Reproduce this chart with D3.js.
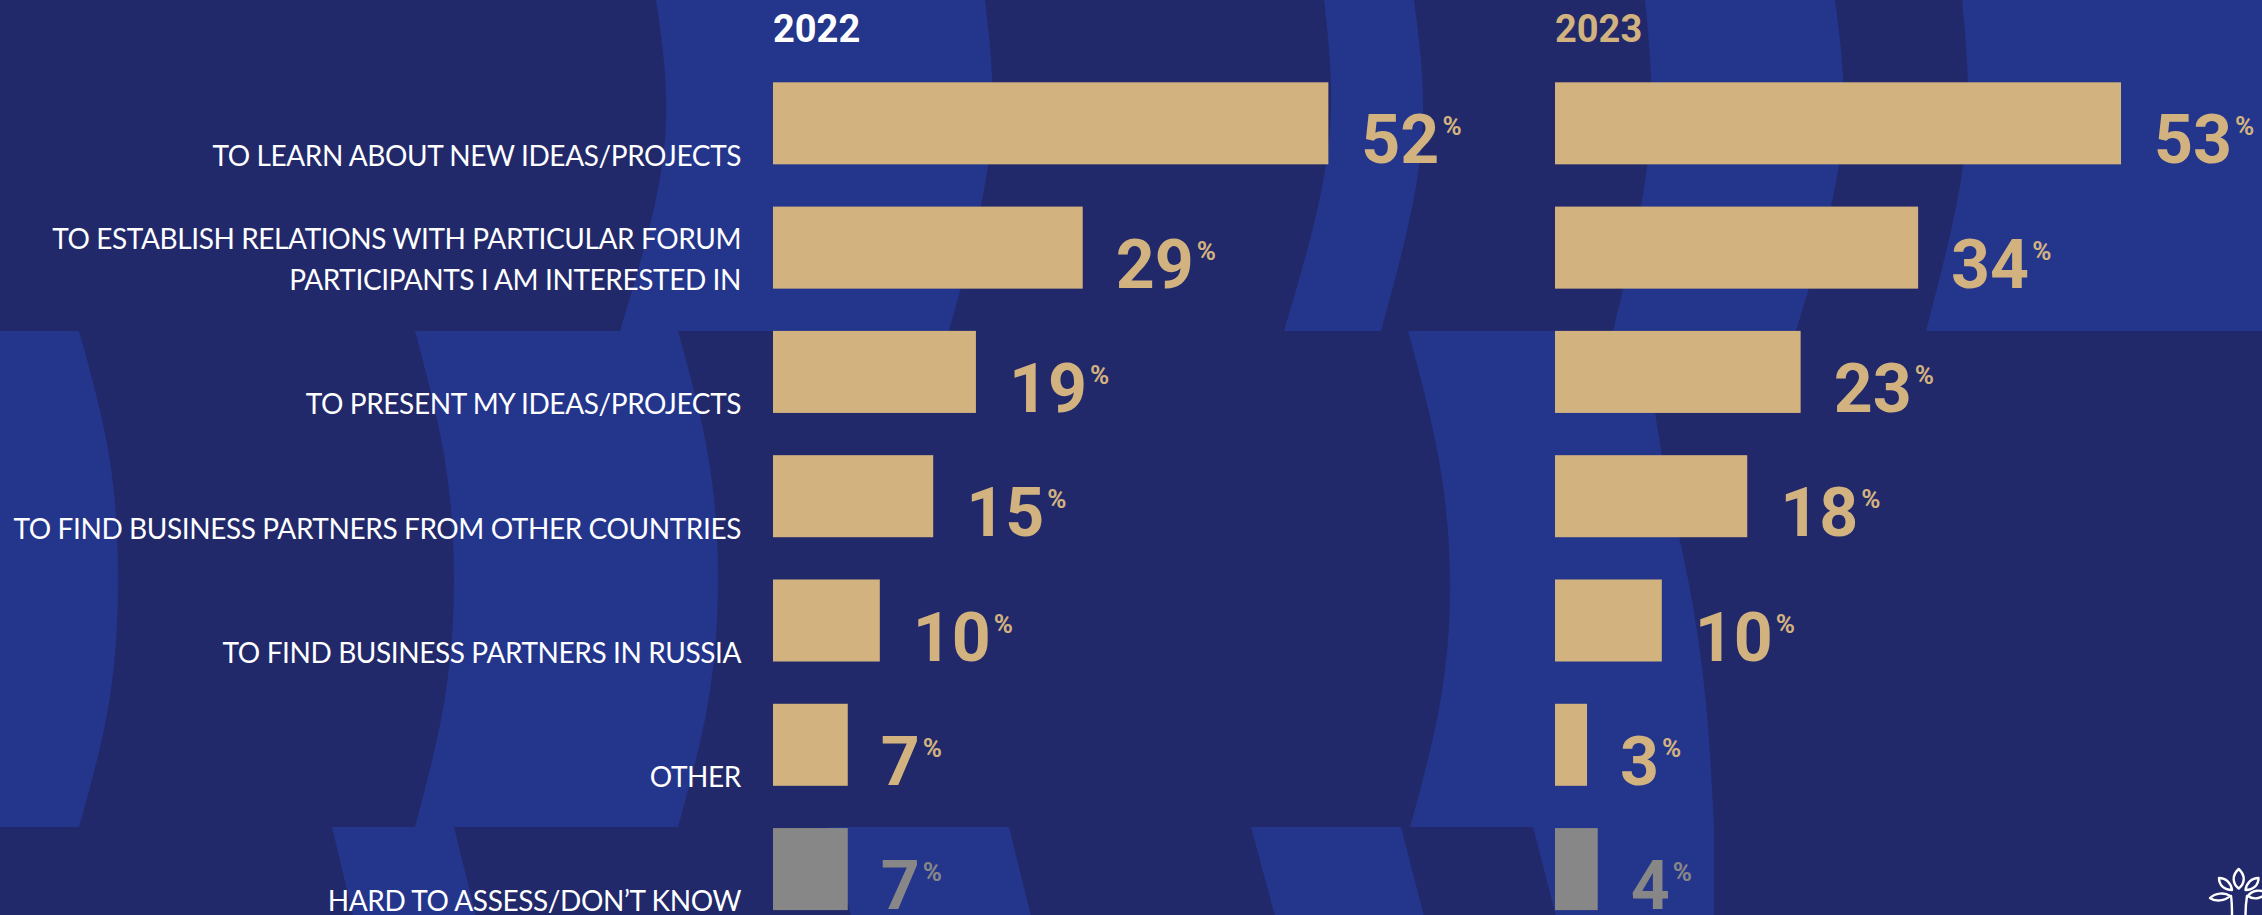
<!DOCTYPE html>
<html>
<head>
<meta charset="utf-8">
<script src="https://cdn.jsdelivr.net/npm/d3@7"></script>
<style>
  html, body { margin: 0; padding: 0; background: #21296A; overflow: hidden; }
  svg { display: block; }
</style>
</head>
<body>
<svg id="chart" width="2262" height="915"></svg>
<script>
// ---- data ----
const categories = [
  "TO LEARN ABOUT NEW IDEAS/PROJECTS",
  "TO ESTABLISH RELATIONS WITH PARTICULAR FORUM\nPARTICIPANTS I AM INTERESTED IN",
  "TO PRESENT MY IDEAS/PROJECTS",
  "TO FIND BUSINESS PARTNERS FROM OTHER COUNTRIES",
  "TO FIND BUSINESS PARTNERS IN RUSSIA",
  "OTHER",
  "HARD TO ASSESS/DON\u2019T KNOW"
];
const years = ["2022", "2023"];
const values2022 = [52, 29, 19, 15, 10, 7, 7];
const values2023 = [53, 34, 23, 18, 10, 3, 4];
const greyCategory = "HARD TO ASSESS/DON\u2019T KNOW";

// ---- style ----
const W = 2262, H = 915;
const DARK = "#21296A", LIGHT = "#24358C", TAN = "#D2B27F", GREY = "#878787";

const svg = d3.select("#chart");

// ---- decorative background (arc stripes) ----
const bands = [
  { y: [0, 150, 331], shapes: [
      [[656, 664, 620], [985, 990, 949]],
      [[1324, 1328, 1284], [1414, 1421, 1381]],
      [[1645, 1649, 1613], [1835, 1841, 1796]],
      [[1962, 1965, 1926], [2320, 2320, 2320]]
  ]},
  { y: [331, 455, 579, 703, 827], shapes: [
      [[-40, -40, -40, -40, -40], [79, 109, 118, 109, 79]],
      [[415, 444, 454, 444, 415], [678, 708, 718, 708, 678]],
      [[1408, 1438, 1450, 1440, 1410], [1645, 1662, 1688, 1706, 1714]]
  ]},
  { y: [827, 920], shapes: [
      [[332, 354], [454, 477]],
      [[829, 852], [1009, 1032]],
      [[1251, 1276], [1401, 1425]],
      [[1533, 1557], [1714, 1714]]
  ]}
];
const bg = svg.append("g");
bg.append("rect").attr("width", W).attr("height", H).attr("fill", DARK);
const edge = d3.line().curve(d3.curveNatural);
bands.forEach(b => {
  b.shapes.forEach(([left, right]) => {
    const lp = left.map((x, i) => [x, b.y[i]]);
    const rp = right.map((x, i) => [x, b.y[i]]).reverse();
    const d = edge(lp) + "L" + edge(rp).slice(1) + "Z";
    bg.append("path").attr("d", d).attr("fill", LIGHT);
  });
});

// ---- scales ----
const y = d3.scaleBand().domain(categories).range([82.3, 910.1]).paddingInner(0.34).paddingOuter(0);
const x2022 = d3.scaleLinear().domain([0, 100]).range([773, 773 + 1068]);
const x2023 = d3.scaleLinear().domain([0, 100]).range([1555, 1555 + 1068]);

// ---- category labels ----
const labelG = svg.append("g")
  .attr("font-family", "Lato, 'Open Sans', sans-serif")
  .attr("font-size", 28)
  .attr("letter-spacing", -0.4)
  .attr("fill", "#FFFFFF")
  .attr("text-anchor", "end");
categories.forEach(c => {
  const lines = c.split("\n");
  const bottom = y(c) + y.bandwidth();
  const t = labelG.append("text");
  lines.forEach((ln, i) => {
    t.append("tspan")
      .attr("x", 741)
      .attr("y", Math.min(bottom + 1.5, 911) - (lines.length - 1 - i) * 41)
      .text(ln);
  });
});

// ---- series ----
const series = [
  { year: years[0], values: values2022, x: x2022, titleColor: "#FFFFFF" },
  { year: years[1], values: values2023, x: x2023, titleColor: TAN }
];

series.forEach(s => {
  const g = svg.append("g");
  g.append("text")
    .attr("x", s.x(0))
    .attr("y", 42)
    .attr("font-family", "Roboto, sans-serif")
    .attr("font-weight", 700)
    .attr("font-size", 38)
    .attr("fill", s.titleColor)
    .text(s.year);

  const rows = categories.map((c, i) => ({ c, v: s.values[i] }));
  g.selectAll("rect.bar").data(rows).join("rect")
    .attr("class", "bar")
    .attr("x", s.x(0))
    .attr("y", d => y(d.c))
    .attr("width", d => s.x(d.v) - s.x(0))
    .attr("height", y.bandwidth())
    .attr("fill", d => d.c === greyCategory ? GREY : TAN);

  const vt = g.selectAll("text.val").data(rows).join("text")
    .attr("class", "val")
    .attr("x", d => s.x(d.v) + 33)
    .attr("y", d => y(d.c) + y.bandwidth() - 1)
    .attr("font-family", "Roboto, sans-serif")
    .attr("font-weight", 700)
    .attr("fill", d => d.c === greyCategory ? GREY : TAN);
  vt.append("tspan").attr("font-size", 68).text(d => d.v);
  vt.append("tspan").attr("font-size", 26).attr("dx", 3).attr("dy", -28).text("%");
});

// ---- logo (bottom right) ----
const logo = svg.append("g")
  .attr("fill", "none").attr("stroke", "#FFFFFF").attr("stroke-width", 2.4)
  .attr("stroke-linecap", "round").attr("stroke-linejoin", "round");
[
  "M2238.7,869 C2232,875 2232,883 2238.7,888.5 C2245.4,883 2245.4,875 2238.7,869 Z",
  "M2232,890 C2224,890 2219,885 2219,878 C2226,878 2231,883 2232,890 Z",
  "M2245.5,890 C2253.5,890 2258.5,885 2258.5,878 C2251.5,878 2246.5,883 2245.5,890 Z",
  "M2230,896 C2225,901 2215,902 2210,898 C2215,893 2225,892 2230,896 Z",
  "M2248,896 C2253,900 2262,899 2266,893 C2261,889 2252,890 2248,896 Z",
  "M2231,896 C2232,902 2232,908 2232,916",
  "M2247,896 C2246,902 2245.5,908 2245.5,916"
].forEach(d => logo.append("path").attr("d", d));
</script>
</body>
</html>
